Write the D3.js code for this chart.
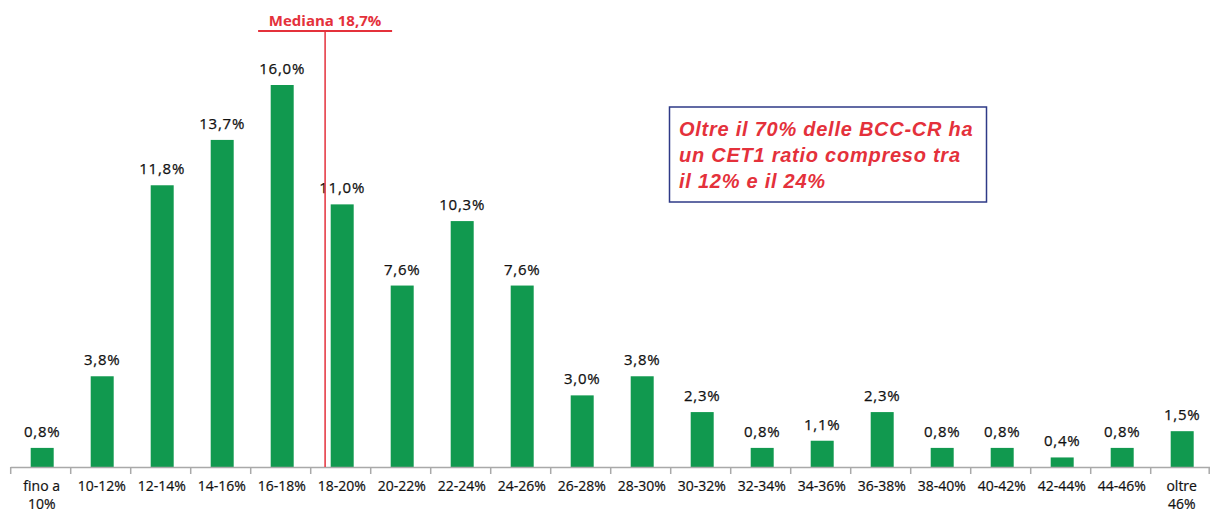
<!DOCTYPE html>
<html><head><meta charset="utf-8">
<script src="https://cdn.jsdelivr.net/npm/d3@7"></script>
<style>
html,body{margin:0;padding:0;background:#fff;}
svg{display:block;font-family:"Open Sans",sans-serif;}
</style></head>
<body><svg id="c" width="1210" height="513"></svg>
<script>
const categories = ["fino a\n10%","10-12%","12-14%","14-16%","16-18%","18-20%","20-22%","22-24%","24-26%","26-28%","28-30%","30-32%","32-34%","34-36%","36-38%","38-40%","40-42%","42-44%","44-46%","oltre\n46%"];
const values = [0.8,3.8,11.8,13.7,16.0,11.0,7.6,10.3,7.6,3.0,3.8,2.3,0.8,1.1,2.3,0.8,0.8,0.4,0.8,1.5];
const valueLabels = ["0,8%","3,8%","11,8%","13,7%","16,0%","11,0%","7,6%","10,3%","7,6%","3,0%","3,8%","2,3%","0,8%","1,1%","2,3%","0,8%","0,8%","0,4%","0,8%","1,5%"];
const medianCategory = "18-20%";
const medianLabel = "Mediana 18,7%";
const noteLines = ["Oltre il 70% delle BCC-CR ha","un CET1 ratio compreso tra","il 12% e il 24%"];

const svg = d3.select("#c");
const green = "#11994f", red = "#e4313b", axisGray = "#a9a9a9";
const baseY = 467;
const x = d3.scaleBand().domain(categories).range([10.7, 1210.7]).padding(0);
const y = d3.scaleLinear().domain([0, 16]).range([baseY, 85]);
const barW = 23;
const bw = x.bandwidth();

// bars
svg.append("g").selectAll("rect").data(values).join("rect")
  .attr("x", (d,i) => x(categories[i]) + (bw - barW)/2 + 1.5)
  .attr("y", d => y(d))
  .attr("width", barW)
  .attr("height", d => baseY - y(d))
  .attr("fill", green);

// value labels
svg.append("g").selectAll("text").data(values).join("text")
  .attr("x", (d,i) => x(categories[i]) + bw/2 + 1.5)
  .attr("y", d => y(d) - 11)
  .attr("text-anchor", "middle")
  .attr("font-size", 15)
  .attr("letter-spacing", 0.8)
  .attr("fill", "#111")
  .attr("stroke", "#111").attr("stroke-width", 0.25)
  .text((d,i) => valueLabels[i]);

// axis
const ax = svg.append("g");
ax.append("line").attr("x1", x.range()[0]).attr("x2", x.range()[1]).attr("y1", baseY+0.5).attr("y2", baseY+0.5)
  .attr("stroke", axisGray).attr("stroke-width", 1.5);
const bounds = categories.map(c => x(c)).concat([x.range()[1]-1.5]);
ax.selectAll("line.t").data(bounds).join("line").attr("class","t")
  .attr("x1", d => d).attr("x2", d => d).attr("y1", baseY).attr("y2", baseY+7)
  .attr("stroke", axisGray).attr("stroke-width", 1.5);
const lbl = ax.selectAll("text").data(categories).join("text")
  .attr("x", d => x(d) + bw/2 + 1)
  .attr("y", 491)
  .attr("text-anchor", "middle")
  .attr("font-size", 14)
  .attr("fill", "#111")
  .attr("stroke", "#111").attr("stroke-width", 0.2);
lbl.each(function(d){
  const parts = d.split("\n");
  const t = d3.select(this);
  parts.forEach((p,j) => t.append("tspan").attr("x", x(d) + bw/2 + 1).attr("dy", j ? 18 : 0).text(p));
});

// median annotation
const mx = x(medianCategory) + bw*0.24;
svg.append("line").attr("x1", mx).attr("x2", mx).attr("y1", 31).attr("y2", baseY)
  .attr("stroke", red).attr("stroke-width", 1.5);
svg.append("line").attr("x1", mx-67).attr("x2", mx+67).attr("y1", 31).attr("y2", 31)
  .attr("stroke", red).attr("stroke-width", 2);
svg.append("text").attr("x", mx).attr("y", 26).attr("text-anchor","middle")
  .attr("font-size", 15).attr("font-weight", "bold").attr("fill", red).text(medianLabel);

// note box
svg.append("rect").attr("x", 669.5).attr("y", 107).attr("width", 317).attr("height", 95)
  .attr("fill", "#fff").attr("stroke", "#2e3a87").attr("stroke-width", 1.5);
svg.append("g").selectAll("text").data(noteLines).join("text")
  .attr("x", 679).attr("y", (d,i) => 136 + i*26)
  .attr("font-family", "'Liberation Sans', Arial, sans-serif")
  .attr("font-size", 20).attr("font-weight", "bold").attr("font-style", "italic")
  .attr("letter-spacing", 0.75)
  .attr("fill", red).text(d => d);
</script></body></html>
